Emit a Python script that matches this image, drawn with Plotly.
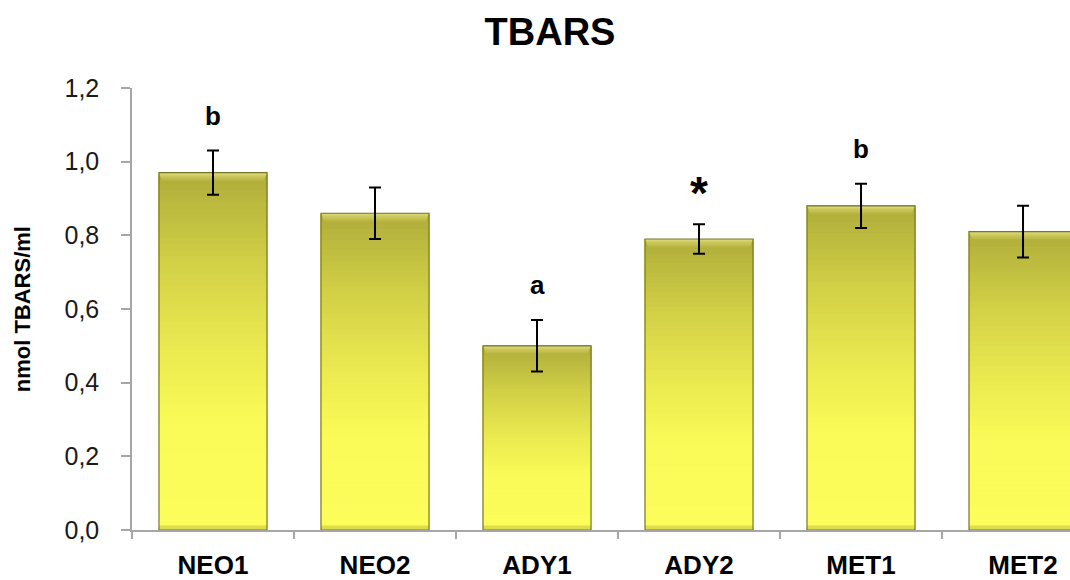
import plotly.graph_objects as go

# Group means and standard errors (nmol TBARS/ml)
groups = ["NEO1", "NEO2", "ADY1", "ADY2", "MET1", "MET2"]
tbars = [0.97, 0.86, 0.50, 0.79, 0.88, 0.81]
sem = [0.06, 0.07, 0.07, 0.04, 0.06, 0.07]
sig_marks = ["b", "", "a", "*", "b", ""]

y_ticks = [0.0, 0.2, 0.4, 0.6, 0.8, 1.0, 1.2]

BAR_W = 0.667
N_SEG = 60

# vertical colour stops for the bar fill, from bottom (0) to top (1)
stops = [
    (0.00, (252, 252, 90)),
    (0.30, (250, 250, 88)),
    (0.50, (235, 234, 80)),
    (0.75, (210, 208, 70)),
    (0.92, (186, 184, 62)),
    (1.00, (174, 172, 58)),
]


def lerp_rgb(c0, c1, t):
    return [round(a + (b - a) * t) for a, b in zip(c0, c1)]


def grad_color(f):
    for (f0, c0), (f1, c1) in zip(stops[:-1], stops[1:]):
        if f0 <= f <= f1:
            t = (f - f0) / (f1 - f0) if f1 > f0 else 0
            return "rgb({},{},{})".format(*lerp_rgb(c0, c1, t))
    return "rgb({},{},{})".format(*stops[-1][1])


fig = go.Figure()

# gradient fill: each slice runs from its own floor up to the bar top,
# so the next slice covers it and no seams show between slices
for i in range(N_SEG):
    f = (i + 0.5) / N_SEG
    fig.add_trace(go.Bar(
        x=groups,
        y=[v * (N_SEG - i) / N_SEG for v in tbars],
        base=[v * i / N_SEG for v in tbars],
        width=BAR_W,
        marker=dict(color=grad_color(f), line=dict(width=0)),
        hoverinfo="skip",
        showlegend=False,
    ))

# darker bevel along the bottom edge
bot = 0.012
fig.add_trace(go.Bar(
    x=groups,
    y=[bot] * len(tbars),
    base=[0] * len(tbars),
    width=BAR_W,
    marker=dict(color="rgb(222,222,74)", line=dict(width=0)),
    hoverinfo="skip",
    showlegend=False,
))

# light bevel along the top edge, fading downward
N_BEV = 6
bev = 0.024
bev_light = (216, 214, 112)
bev_dark = (182, 180, 62)
for j in range(N_BEV):
    t = j / (N_BEV - 1)
    c = lerp_rgb(bev_dark, bev_light, t)
    fig.add_trace(go.Bar(
        x=groups,
        y=[bev * (N_BEV - j) / N_BEV for _ in tbars],
        base=[v - bev * (N_BEV - j) / N_BEV for v in tbars],
        width=BAR_W - 0.035 * (1 - t) - 0.004,
        marker=dict(color="rgb({},{},{})".format(*c), line=dict(width=0)),
        hoverinfo="skip",
        showlegend=False,
    ))

# outline with error bars
fig.add_trace(go.Bar(
    x=groups,
    y=tbars,
    width=BAR_W,
    marker=dict(color="rgba(0,0,0,0)", line=dict(color="rgb(120,118,40)", width=1.2)),
    error_y=dict(type="data", array=sem, visible=True, color="black",
                 thickness=2, width=6),
    showlegend=False,
))

# significance marks above the error bars
for g, v, e, m in zip(groups, tbars, sem, sig_marks):
    if not m:
        continue
    star = m == "*"
    fig.add_annotation(
        x=g, y=v + e + (0.085 if star else 0.095),
        text=m, showarrow=False, yanchor="middle",
        font=dict(family="Liberation Sans, Arial, sans-serif",
                  size=46 if star else 26, color="black", weight="bold"),
    )

# rotated y-axis title
fig.add_annotation(
    xref="paper", yref="paper", x=-0.117, y=0.5,
    text="nmol TBARS/ml", textangle=-90, showarrow=False,
    xanchor="center", yanchor="middle",
    font=dict(family="Liberation Sans, Arial, sans-serif",
              size=22, color="black", weight="bold"),
)

fig.update_layout(
    width=1070, height=580,
    margin=dict(l=132, r=0, t=88, b=50, autoexpand=False),
    paper_bgcolor="white", plot_bgcolor="white",
    barmode="overlay",
    separators=", ",
    title=dict(text="TBARS", x=550 / 1070, xref="container", y=1 - 32 / 580,
               yanchor="middle", xanchor="center",
               font=dict(family="Liberation Sans, Arial, sans-serif", size=38,
                         color="black", weight="bold")),
    xaxis=dict(
        type="category",
        categoryorder="array", categoryarray=groups,
        range=[-0.5, 5.29],
        automargin=False,
        showline=True, linecolor="#a6a6a6", linewidth=1.5,
        ticks="outside", tickson="boundaries", ticklen=7, tickcolor="#a6a6a6",
        tickwidth=1.5,
        ticklabelstandoff=11,
        tickfont=dict(family="Liberation Sans, Arial, sans-serif",
                      size=26, color="black", weight="bold"),
        showgrid=False, zeroline=False,
    ),
    yaxis=dict(
        range=[0, 1.2],
        automargin=False,
        tickvals=y_ticks, tickformat=".1f",
        showline=True, linecolor="#a6a6a6", linewidth=1.5,
        ticks="outside", ticklen=9, tickcolor="#a6a6a6", tickwidth=1.5,
        ticklabelstandoff=17,
        tickfont=dict(family="Liberation Sans, Arial, sans-serif", size=25,
                      color="#1a1a1a"),
        showgrid=False, zeroline=False,
    ),
)

fig.write_html("out.html")
